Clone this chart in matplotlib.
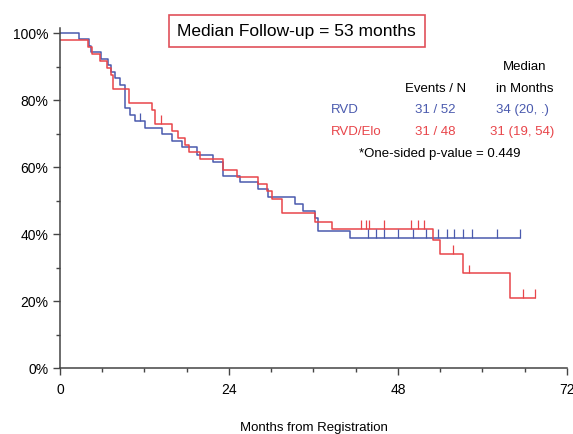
import matplotlib.pyplot as plt

plt.rcParams['font.family'] = ['Liberation Sans', 'DejaVu Sans']

# 生存曲线数据 (月份, 生存率%)
rvd_t = [0, 2.65, 4.1, 4.4, 5.8, 6.8, 7.2, 7.8, 8.5, 9.2, 9.9, 10.6, 12.1, 14.5, 15.9,
         17.3, 19.5, 21.7, 23.2, 25.6, 28.1, 29.5, 33.4, 34.5, 36.2, 36.7, 41.2, 65.3]
rvd_s = [100, 98.1, 96.2, 94.3, 92.3, 90.4, 88.5, 86.5, 84.6, 77.5, 75.5, 73.6, 71.7, 69.8, 67.9,
         66.0, 63.6, 61.5, 57.3, 55.4, 53.5, 51.0, 49.0, 46.8, 44.9, 40.8, 38.8, 38.8]
rvd_cens = [11.4, 43.8, 44.9, 46.0, 48.0, 50.1, 52.0, 53.7, 55.0, 56.0, 57.2, 58.5, 62.1, 65.3]

elo_t = [0, 4.0, 4.6, 5.7, 6.7, 7.3, 7.5, 9.8, 13.0, 13.5, 15.9, 16.8, 17.8, 18.3, 19.9,
         23.2, 25.1, 28.1, 29.4, 30.1, 31.5, 36.2, 38.6, 53.0, 54.0, 57.3, 63.9, 67.5]
elo_s = [97.9, 95.8, 93.8, 91.7, 89.6, 87.5, 83.3, 79.2, 77.1, 72.9, 70.8, 68.8, 66.7, 64.6, 62.5,
         59.0, 56.9, 54.8, 52.7, 50.6, 46.4, 43.6, 41.5, 38.2, 34.0, 28.3, 21.0, 21.0]
elo_cens = [14.4, 42.8, 43.5, 43.9, 46.0, 49.9, 50.9, 51.7, 55.8, 58.1, 65.8, 67.5]

blue = '#4a5aae'
red = '#e8454a'


def level_at(ts, ss, t):
    # 取时间t处的生存率
    v = ss[0]
    for a, b in zip(ts, ss):
        if a <= t:
            v = b
    return v


fig = plt.figure(figsize=(5.73, 4.34), dpi=100)
ax = fig.add_axes([0.1047, 0.152, 0.8848, 0.7835])

ax.step(rvd_t, rvd_s, where='post', color=blue, lw=1.1)
ax.step(elo_t, elo_s, where='post', color=red, lw=1.1)

# 删失标记
for t in rvd_cens:
    y = level_at(rvd_t, rvd_s, t)
    ax.vlines(t, y, y + 2.6, color=blue, lw=0.9)
for t in elo_cens:
    y = level_at(elo_t, elo_s, t)
    ax.vlines(t, y, y + 2.6, color=red, lw=0.9)

ax.set_xlim(0, 72)
ax.set_ylim(0, 101.5)
ax.set_xticks([0, 24, 48, 72])
ax.set_xticks(range(0, 73, 6), minor=True)
ax.set_yticks(range(0, 101, 20))
ax.set_yticks(range(0, 101, 10), minor=True)
ax.set_yticklabels([f'{v}%' for v in range(0, 101, 20)])
ax.tick_params(labelsize=10, length=5, width=1, color='#444444')
ax.tick_params(which='minor', length=3, width=1, color='#444444')
ax.tick_params(axis='x', pad=6)
for s in ['top', 'right']:
    ax.spines[s].set_visible(False)
for s in ['left', 'bottom']:
    ax.spines[s].set_color('#444444')
    ax.spines[s].set_linewidth(1.1)

ax.set_xlabel('Months from Registration', fontsize=9.5, labelpad=18)

# 标题框
fig.text(0.518, 0.928, 'Median Follow-up = 53 months', fontsize=12.5, ha='center', va='center',
         bbox=dict(boxstyle='square,pad=0.5', fc='white', ec='#e0505a', lw=1.2))

# 表格文字
fs = 9.5
fig.text(0.916, 0.845, 'Median', fontsize=fs, ha='center', va='center')
fig.text(0.916, 0.795, 'in Months', fontsize=fs, ha='center', va='center')
fig.text(0.760, 0.795, 'Events / N', fontsize=fs, ha='center', va='center')
fig.text(0.577, 0.746, 'RVD', fontsize=fs, ha='left', va='center', color=blue)
fig.text(0.760, 0.746, '31 / 52', fontsize=fs, ha='center', va='center', color=blue)
fig.text(0.912, 0.746, '34 (20, .)', fontsize=fs, ha='center', va='center', color=blue)
fig.text(0.577, 0.696, 'RVD/Elo', fontsize=fs, ha='left', va='center', color=red)
fig.text(0.760, 0.696, '31 / 48', fontsize=fs, ha='center', va='center', color=red)
fig.text(0.912, 0.696, '31 (19, 54)', fontsize=fs, ha='center', va='center', color=red)
fig.text(0.768, 0.646, '*One-sided p-value = 0.449', fontsize=fs, ha='center', va='center')

fig.savefig('out.png', dpi=100)
